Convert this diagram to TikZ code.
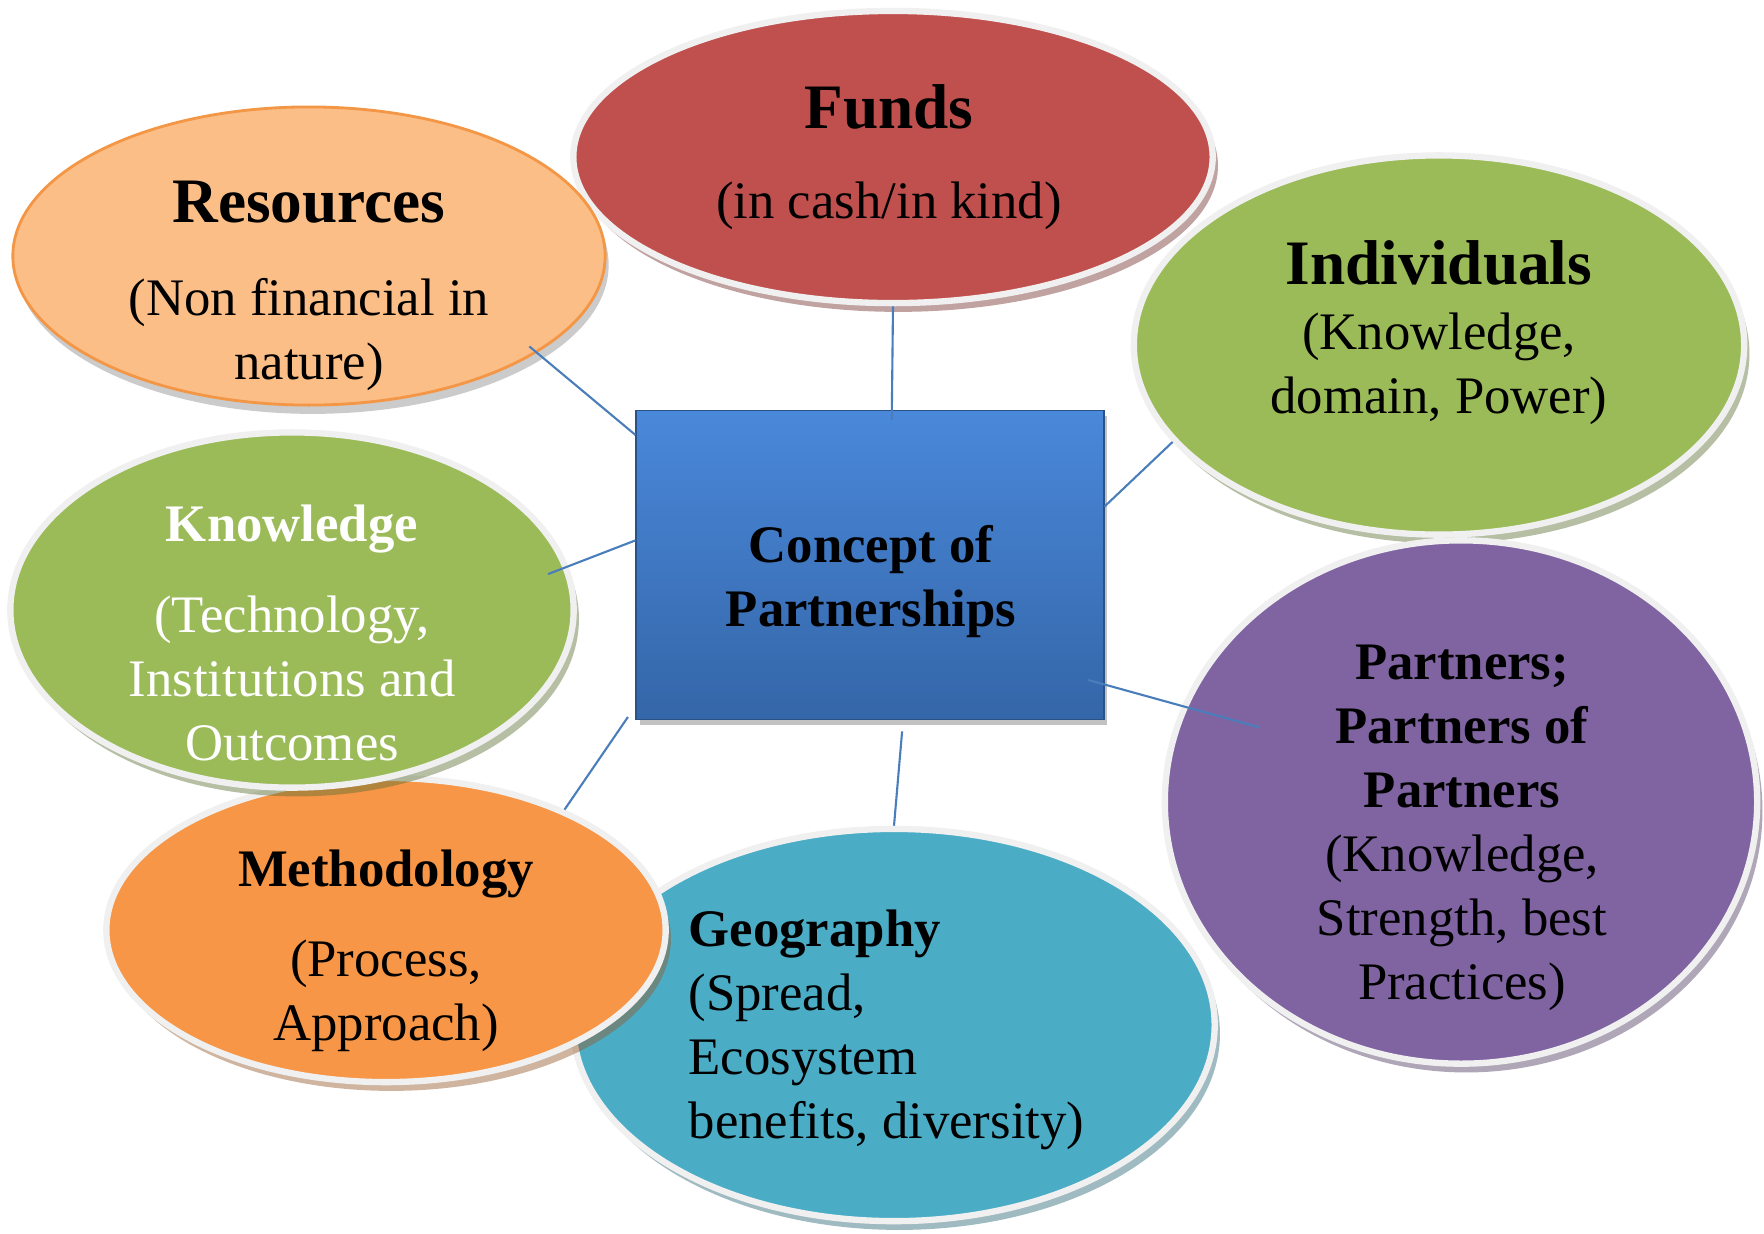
\documentclass[tikz,border=0pt]{standalone}
\usepackage{fontspec}
\setmainfont{Liberation Serif}
\usetikzlibrary{shapes.geometric,shadows}
\definecolor{rim}{HTML}{F0F0F0}
\definecolor{resfill}{HTML}{FBBE87}
\definecolor{resline}{HTML}{F39645}
\definecolor{fundfill}{HTML}{C0504D}
\definecolor{greenfill}{HTML}{9BBB59}
\definecolor{purplefill}{HTML}{8064A2}
\definecolor{orangefill}{HTML}{F79646}
\definecolor{aquafill}{HTML}{4BACC6}
\definecolor{boxtop}{HTML}{4A88DA}
\definecolor{boxbottom}{HTML}{3466A8}
\definecolor{linkblue}{HTML}{4A7EBB}

\begin{document}
\begin{tikzpicture}[x=0.01cm,y=-0.01cm,
    bubble/.style={ellipse,draw=rim,line width=1.8pt,inner sep=0pt,fill=#1,drop shadow={fill=#1!60!black,opacity=.45,shadow xshift=1.5pt,shadow yshift=-2.5pt}},
    caption/.style={align=center,inner sep=0pt,font=\fontsize{15}{18.2}\selectfont},
    concept/.style={rectangle,draw=boxbottom!80!black,line width=.5pt,top color=boxtop,bottom color=boxbottom,minimum width=4.67cm,minimum height=3.09cm,drop shadow={fill=black!60,opacity=.4,shadow xshift=1pt,shadow yshift=-1.5pt}},
    link/.style={draw=linkblue,line width=.6pt}]
  \useasboundingbox (0,0) rectangle (1764,1233);
  \node[bubble=aquafill,minimum width=6.41cm,minimum height=3.92cm] (geography) at (894,1025) {};
  \node[bubble=orangefill,minimum width=5.59cm,minimum height=3.04cm] (methodology) at (386,930) {};
  \node[bubble=greenfill,minimum width=5.63cm,minimum height=3.55cm] (knowledge) at (292,610) {};
  \node[bubble=greenfill,minimum width=6.10cm,minimum height=3.79cm] (individuals) at (1439,345) {};
  \node[bubble=purplefill,minimum width=5.92cm,minimum height=5.23cm] (partners) at (1461,802) {};
  \node[bubble=fundfill,minimum width=6.39cm,minimum height=2.92cm] (funds) at (893,157) {};
  \node[ellipse,draw=resline,line width=.8pt,fill=resfill,minimum width=5.92cm,minimum height=2.98cm,drop shadow={fill=black!45,opacity=.45,shadow xshift=1pt,shadow yshift=-2.5pt}] (resources) at (309,256) {};
  \node[concept] (concept) at (870,565) {};

  \node[caption,font=\fontsize{15}{18.2}\selectfont\bfseries] (concept text) at (871,582) {Concept of\\Partnerships};
  \node[caption] (resources text) at (309,286) {{\fontsize{18}{22}\selectfont\bfseries Resources}\\[8.4pt](Non financial in\\nature)};
  \node[caption] (funds text) at (889,157) {{\fontsize{18}{22}\selectfont\bfseries Funds}\\[7.4pt](in cash/in kind)};
  \node[caption] (individuals text) at (1439,333) {{\fontsize{18}{22}\selectfont\bfseries Individuals}\\[.3pt](Knowledge,\\domain, Power)};
  \node[caption,text=white] (knowledge text) at (292,633) {\textbf{Knowledge}\\[7.7pt](Technology,\\Institutions and\\Outcomes};
  \node[caption] (partners text) at (1462,828) {\textbf{Partners;}\\\textbf{Partners of}\\\textbf{Partners}\\(Knowledge,\\Strength, best\\Practices)};
  \node[caption] (methodology text) at (386,951) {\textbf{Methodology}\\[7.4pt](Process,\\Approach)};
  \node[caption,align=left,anchor=west] (geography text) at (688,1030) {\textbf{Geography}\\(Spread,\\Ecosystem\\benefits, diversity)};

  \draw[link,shorten <=-2.8pt] (resources.-23.3) -- (concept.151.1);
  \draw[link,shorten >=-3pt] (funds.-90) -- (concept.82.4);
  \draw[link] (individuals.200.8) -- (concept.14.6);
  \draw[link,shorten <=-6.2pt] (knowledge.9.6) -- (concept.174.4);
  \draw[link,shorten <=-22.7pt,shorten >=-4.8pt] (partners.161.4) -- (concept.-27.6);
  \draw[link,shorten >=3.8pt] (methodology.34.9) -- (concept.211);
  \draw[link,shorten >=3.1pt] (geography.90) -- (concept.-78.4);
\end{tikzpicture}
\end{document}
